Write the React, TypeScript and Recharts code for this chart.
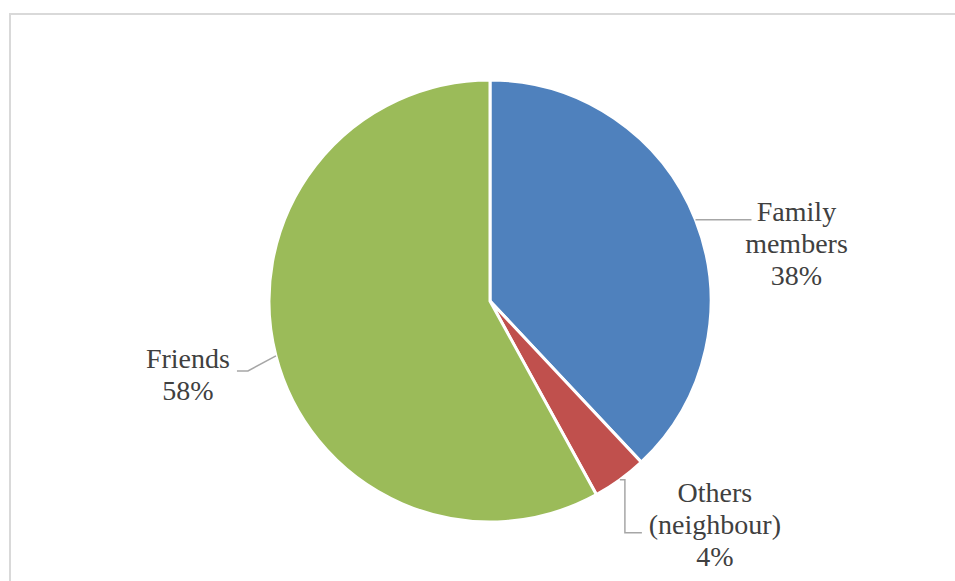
import { PieChart, Pie, Cell } from 'recharts'

const categories = ['Family members', 'Others (neighbour)', 'Friends']
const shares = [38, 4, 58]
const labelLines = [['Family', 'members', '38%'], ['Others', '(neighbour)', '4%'], ['Friends', '58%']]

const COLORS = ['#4F81BD', '#C0504D', '#9BBB59']

const data = categories.map((name, i) => ({ name, value: shares[i], lines: labelLines[i] }))

// leader line bends + text block placement, relative to the slice's edge point
const labelLayout: Record<string, { path: [number, number][]; tx: number; ty: number }> = {
  'Family members': { path: [[56, 0]], tx: 101, ty: 1 },
  'Others (neighbour)': { path: [[5, 0], [5, 53], [22, 53]], tx: 95, ty: 22 },
  Friends: { path: [[-28, 15], [-39, 15]], tx: -88, ty: 12 },
}

const RADIAN = Math.PI / 180
const SERIF = 'Liberation Serif, DejaVu Serif'

function renderLabel(props: any) {
  const { cx, cy, midAngle, outerRadius, index } = props
  const d = data[index]
  const ax = cx + outerRadius * Math.cos(-midAngle * RADIAN)
  const ay = cy + outerRadius * Math.sin(-midAngle * RADIAN)
  const lay = labelLayout[d.name]
  const pts = [[ax, ay], ...lay.path.map(([dx, dy]) => [ax + dx, ay + dy])]
  return (
    <g>
      <polyline
        points={pts.map((p) => p.join(',')).join(' ')}
        fill="none"
        stroke="#a6a6a6"
        strokeWidth={1.5}
      />
      <text
        x={ax + lay.tx}
        y={ay + lay.ty}
        textAnchor="middle"
        fill="#404040"
        fontFamily={SERIF}
        fontSize={28}
        style={{ fontFamily: SERIF, fontSize: 28 }}
      >
        {d.lines.map((line, i) => (
          <tspan key={i} x={ax + lay.tx} dy={i === 0 ? 0 : 32} style={{ fontFamily: SERIF }}>
            {line}
          </tspan>
        ))}
      </text>
    </g>
  )
}

export default function App() {
  return (
    <div style={{ position: 'absolute', left: 0, top: 0, width: 955, height: 581, background: '#fff', overflow: 'hidden', fontFamily: SERIF }}>
      <div
        style={{
          position: 'absolute',
          left: 9,
          top: 13,
          width: 1000,
          height: 700,
          border: '2px solid #d9d9d9',
          boxSizing: 'border-box',
        }}
      />
      <div style={{ position: 'absolute', left: 0, top: 0 }}>
        <PieChart width={955} height={581} margin={{ top: 0, right: 0, bottom: 0, left: 0 }}>
          <Pie
            data={data}
            dataKey="value"
            nameKey="name"
            cx={490}
            cy={301}
            outerRadius={221}
            startAngle={90}
            endAngle={-270}
            stroke="#ffffff"
            strokeWidth={3}
            label={renderLabel}
            labelLine={false}
            isAnimationActive={false}
          >
            {data.map((_, i) => (
              <Cell key={i} fill={COLORS[i]} />
            ))}
          </Pie>
        </PieChart>
      </div>
    </div>
  )
}
